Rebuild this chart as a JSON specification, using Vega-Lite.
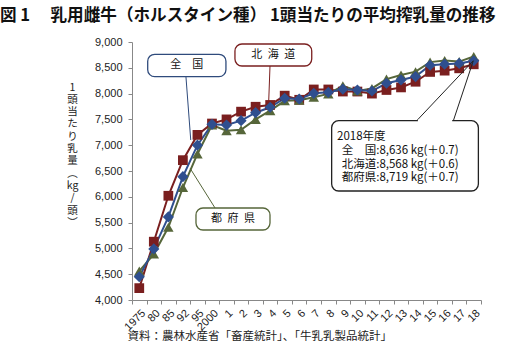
{
  "$schema": "https://vega.github.io/schema/vega-lite/v6.json",
  "width": 349,
  "height": 258,
  "autosize": "none",
  "padding": {"left": 132, "top": 42, "right": 25, "bottom": 55},
  "background": "white",
  "title": {
    "text": "図 1　 乳用雌牛（ホルスタイン種） 1頭当たりの平均搾乳量の推移",
    "anchor": "start",
    "frame": "group",
    "dx": -132,
    "font": "Noto Sans CJK JP",
    "fontSize": 16.6,
    "fontWeight": "bold",
    "color": "#111",
    "offset": 11
  },
  "config": {
    "view": {"stroke": null},
    "font": "Noto Sans CJK JP"
  },
  "datasets": {
    "milk": [
      {"year": "1975", "series": "北海道", "kg": 4230}, {"year": "1975", "series": "都府県", "kg": 4560}, {"year": "1975", "series": "全国", "kg": 4450},
      {"year": "80", "series": "北海道", "kg": 5130}, {"year": "80", "series": "都府県", "kg": 4890}, {"year": "80", "series": "全国", "kg": 4990},
      {"year": "85", "series": "北海道", "kg": 6020}, {"year": "85", "series": "都府県", "kg": 5410}, {"year": "85", "series": "全国", "kg": 5610},
      {"year": "92", "series": "北海道", "kg": 6710}, {"year": "92", "series": "都府県", "kg": 6180}, {"year": "92", "series": "全国", "kg": 6390},
      {"year": "95", "series": "北海道", "kg": 7200}, {"year": "95", "series": "都府県", "kg": 6830}, {"year": "95", "series": "全国", "kg": 7000},
      {"year": "2000", "series": "北海道", "kg": 7420}, {"year": "2000", "series": "都府県", "kg": 7390}, {"year": "2000", "series": "全国", "kg": 7405},
      {"year": "1", "series": "北海道", "kg": 7500}, {"year": "1", "series": "都府県", "kg": 7280}, {"year": "1", "series": "全国", "kg": 7390},
      {"year": "2", "series": "北海道", "kg": 7650}, {"year": "2", "series": "都府県", "kg": 7300}, {"year": "2", "series": "全国", "kg": 7475},
      {"year": "3", "series": "北海道", "kg": 7745}, {"year": "3", "series": "都府県", "kg": 7500}, {"year": "3", "series": "全国", "kg": 7630},
      {"year": "4", "series": "北海道", "kg": 7780}, {"year": "4", "series": "都府県", "kg": 7670}, {"year": "4", "series": "全国", "kg": 7735},
      {"year": "5", "series": "北海道", "kg": 7960}, {"year": "5", "series": "都府県", "kg": 7860}, {"year": "5", "series": "全国", "kg": 7910},
      {"year": "6", "series": "北海道", "kg": 7880}, {"year": "6", "series": "都府県", "kg": 7870}, {"year": "6", "series": "全国", "kg": 7895},
      {"year": "7", "series": "北海道", "kg": 8080}, {"year": "7", "series": "都府県", "kg": 7930}, {"year": "7", "series": "全国", "kg": 8005},
      {"year": "8", "series": "北海道", "kg": 8080}, {"year": "8", "series": "都府県", "kg": 7995}, {"year": "8", "series": "全国", "kg": 8025},
      {"year": "9", "series": "北海道", "kg": 8040}, {"year": "9", "series": "都府県", "kg": 8150}, {"year": "9", "series": "全国", "kg": 8085},
      {"year": "10", "series": "北海道", "kg": 8040}, {"year": "10", "series": "都府県", "kg": 8050}, {"year": "10", "series": "全国", "kg": 8070},
      {"year": "11", "series": "北海道", "kg": 8000}, {"year": "11", "series": "都府県", "kg": 8100}, {"year": "11", "series": "全国", "kg": 8050},
      {"year": "12", "series": "北海道", "kg": 8070}, {"year": "12", "series": "都府県", "kg": 8280}, {"year": "12", "series": "全国", "kg": 8200},
      {"year": "13", "series": "北海道", "kg": 8120}, {"year": "13", "series": "都府県", "kg": 8360}, {"year": "13", "series": "全国", "kg": 8265},
      {"year": "14", "series": "北海道", "kg": 8230}, {"year": "14", "series": "都府県", "kg": 8425}, {"year": "14", "series": "全国", "kg": 8330},
      {"year": "15", "series": "北海道", "kg": 8420}, {"year": "15", "series": "都府県", "kg": 8610}, {"year": "15", "series": "全国", "kg": 8550},
      {"year": "16", "series": "北海道", "kg": 8445}, {"year": "16", "series": "都府県", "kg": 8640}, {"year": "16", "series": "全国", "kg": 8570},
      {"year": "17", "series": "北海道", "kg": 8490}, {"year": "17", "series": "都府県", "kg": 8620}, {"year": "17", "series": "全国", "kg": 8585},
      {"year": "18", "series": "北海道", "kg": 8568}, {"year": "18", "series": "都府県", "kg": 8719}, {"year": "18", "series": "全国", "kg": 8636}
    ],
    "boxes": [
      {"name": "全国", "x1": 1.08, "x2": 6.46, "y1": 8328, "y2": 8762, "stroke": "#2F4B7C"},
      {"name": "北海道", "x1": 7.08, "x2": 12.36, "y1": 8535, "y2": 8961, "stroke": "#7A1F1F"},
      {"name": "都府県", "x1": 4.40, "x2": 9.49, "y1": 5357, "y2": 5783, "stroke": "#56663A"},
      {"name": "2018", "x1": 13.73, "x2": 23.82, "y1": 6112, "y2": 7475, "stroke": "#222222"}
    ],
    "leaders": [
      {"name": "全国", "x1": 3.71, "y1": 8328, "x2": 4.04, "y2": 7101, "stroke": "#2F4B7C"},
      {"name": "北海道", "x1": 9.49, "y1": 8535, "x2": 9.40, "y2": 7843, "stroke": "#7A1F1F"},
      {"name": "都府県", "x1": 5.71, "y1": 5783, "x2": 4.0, "y2": 6550, "stroke": "#56663A"},
      {"name": "2018a", "x1": 19.58, "y1": 7475, "x2": 23.47, "y2": 8636, "stroke": "#222222"},
      {"name": "2018b", "x1": 22.10, "y1": 7475, "x2": 23.47, "y2": 8636, "stroke": "#222222"}
    ],
    "gaps": [
      {"x1": 19.66, "x2": 22.02, "y1": 7475}
    ],
    "labels": [
      {"text": "全　国", "tx": 3.77, "ty": 8545},
      {"text": "北\u2002海\u2002道", "tx": 9.72, "ty": 8748},
      {"text": "都\u2002府\u2002県", "tx": 6.95, "ty": 5570}
    ],
    "notes": [
      {"text": "2018年度", "tx": 14.10, "ty": 7165},
      {"text": "全　国:8,636 kg(＋0.7)", "tx": 14.42, "ty": 6893},
      {"text": "北海道:8,568 kg(＋0.6)", "tx": 14.42, "ty": 6616},
      {"text": "都府県:8,719 kg(＋0.7)", "tx": 14.42, "ty": 6358}
    ]
  },
  "layer": [
    {
      "data": {"name": "milk"},
      "encoding": {
        "x": {
          "field": "year",
          "type": "ordinal",
          "sort": ["1975", "80", "85", "92", "95", "2000", "1", "2", "3", "4", "5", "6", "7", "8", "9", "10", "11", "12", "13", "14", "15", "16", "17", "18"],
          "scale": {"paddingInner": 0, "paddingOuter": 0},
          "axis": {
            "labelAngle": -45,
            "tickBand": "extent",
            "labelFont": "Liberation Sans",
            "labelFontSize": 11,
            "labelColor": "#222",
            "domainColor": "#888",
            "tickColor": "#888",
            "tickSize": 4,
            "labelPadding": 3,
            "title": "資料：農林水産省「畜産統計」、「牛乳乳製品統計」",
            "titleFont": "Noto Sans CJK JP",
            "titleFontSize": 11.5,
            "titleFontWeight": "normal",
            "titleColor": "#222",
            "titleAngle": 0,
            "titleAlign": "left",
            "titleBaseline": "middle",
            "titleAnchor": "start",
            "titleX": -5,
            "titleY": 36
          }
        },
        "y": {
          "field": "kg",
          "type": "quantitative",
          "scale": {"domain": [4000, 9000], "nice": false, "zero": false},
          "axis": {
            "values": [4000, 4500, 5000, 5500, 6000, 6500, 7000, 7500, 8000, 8500, 9000],
            "format": ",.0f",
            "grid": false,
            "labelFont": "Liberation Sans",
            "labelFontSize": 11,
            "labelColor": "#222",
            "domainColor": "#888",
            "tickColor": "#888",
            "tickSize": 4,
            "labelPadding": 6,
            "title": ["1", "頭", "当", "た", "り", "乳", "量", "︵", "kg", "/", "頭", "︶"],
            "titleFont": "Noto Sans CJK JP",
            "titleFontSize": 10.5,
            "titleFontWeight": "normal",
            "titleColor": "#222",
            "titleAngle": 0,
            "titleAlign": "center",
            "titleBaseline": "top",
            "titleLineHeight": 12.3,
            "titleX": -60,
            "titleY": 40
          }
        },
        "color": {
          "field": "series",
          "type": "nominal",
          "scale": {"domain": ["北海道", "都府県", "全国"], "range": ["#7A1F1F", "#56663A", "#2F4F8F"]},
          "legend": null
        }
      },
      "layer": [
        {"mark": {"type": "line", "strokeWidth": 2}},
        {
          "mark": {"type": "point", "filled": true, "opacity": 1},
          "encoding": {
            "shape": {
              "field": "series",
              "type": "nominal",
              "scale": {"domain": ["北海道", "都府県", "全国"], "range": ["square", "triangle-up", "diamond"]},
              "legend": null
            },
            "size": {
              "field": "series",
              "type": "nominal",
              "scale": {"domain": ["北海道", "都府県", "全国"], "range": [95, 125, 115]},
              "legend": null
            }
          }
        }
      ]
    },
    {
      "layer": [
        {
          "data": {"name": "leaders"},
          "mark": {"type": "rule", "strokeWidth": 1},
          "encoding": {
            "x": {"field": "x1", "type": "quantitative", "scale": {"domain": [0, 24], "nice": false, "zero": false}, "axis": null},
            "x2": {"field": "x2"},
            "y": {"field": "y1", "type": "quantitative", "scale": {"domain": [4000, 9000], "nice": false, "zero": false}, "axis": null},
            "y2": {"field": "y2"},
            "color": {"field": "stroke", "type": "nominal", "scale": null}
          }
        },
        {
          "data": {"name": "boxes"},
          "mark": {"type": "rect", "fill": "white", "strokeWidth": 1.3, "cornerRadius": 7},
          "encoding": {
            "x": {"field": "x1", "type": "quantitative"},
            "x2": {"field": "x2"},
            "y": {"field": "y1", "type": "quantitative"},
            "y2": {"field": "y2"},
            "stroke": {"field": "stroke", "type": "nominal", "scale": null}
          }
        },
        {
          "data": {"name": "gaps"},
          "mark": {"type": "rule", "strokeWidth": 2.5, "color": "white"},
          "encoding": {
            "x": {"field": "x1", "type": "quantitative"},
            "x2": {"field": "x2"},
            "y": {"field": "y1", "type": "quantitative"}
          }
        },
        {
          "data": {"name": "labels"},
          "mark": {"type": "text", "fontSize": 11, "color": "#111", "baseline": "middle", "align": "center", "font": "Noto Sans CJK JP"},
          "encoding": {
            "x": {"field": "tx", "type": "quantitative"},
            "y": {"field": "ty", "type": "quantitative"},
            "text": {"field": "text"}
          }
        },
        {
          "data": {"name": "notes"},
          "mark": {"type": "text", "fontSize": 11.5, "color": "#111", "baseline": "middle", "align": "left", "font": "Noto Sans CJK JP"},
          "encoding": {
            "x": {"field": "tx", "type": "quantitative"},
            "y": {"field": "ty", "type": "quantitative"},
            "text": {"field": "text"}
          }
        }
      ]
    }
  ],
  "resolve": {"scale": {"x": "independent", "y": "independent", "color": "independent"}, "axis": {"x": "independent", "y": "independent"}}
}
